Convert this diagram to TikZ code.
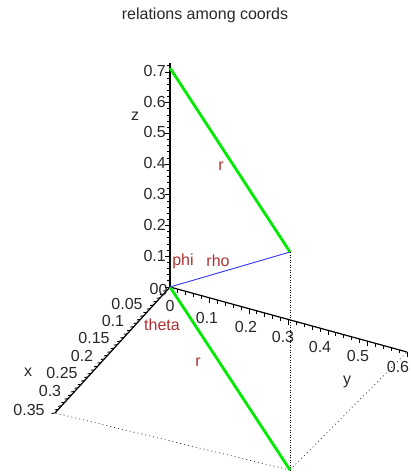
\documentclass[tikz,border=0pt]{standalone}
\usepackage{fontspec}
\setmainfont{Liberation Sans}
\usetikzlibrary{calc}
\definecolor{lblred}{RGB}{176,48,48}
\definecolor{grn}{RGB}{0,235,0}
\definecolor{blu}{RGB}{50,50,255}
\definecolor{txt}{RGB}{40,40,40}
\begin{document}
\begin{tikzpicture}[x=1pt,y=-1pt,
  ticklbl/.style={font=\fontsize{16}{16}\selectfont, text=txt, inner sep=0pt},
  redlbl/.style={font=\fontsize{16}{16}\selectfont, text=lblred, inner sep=0pt},
  axisline/.style={black, line width=1.2pt},
  tickmark/.style={black, line width=0.9pt},
  greenline/.style={grn, line width=2.8pt},
  bluline/.style={blu, line width=0.9pt},
  densedot/.style={black, line width=0.9pt, dash pattern=on 1.2pt off 1.3pt},
  sparsedot/.style={black!80, line width=0.7pt, dash pattern=on 1pt off 3pt}]
\useasboundingbox (0,0) rectangle (411,473);
% key points
\coordinate (O) at (170,287);
\coordinate (Ztop) at (170,63);
\coordinate (Xend) at (55,413);
\coordinate (Yend) at (407,352);
\coordinate (Pz) at (170,68);
\coordinate (P) at (290,252);
\coordinate (Q) at (290,470);
% title
\node[ticklbl] (title) at (205,15) {relations among coords};
% dotted construction lines
\draw[densedot] (P) -- (Q);
\draw[sparsedot] (Q) -- (Xend);
\draw[sparsedot] (Q) -- (Yend);
% axes
\draw[axisline] (O) -- (Ztop);
\draw[axisline] (O) -- (Xend);
\draw[axisline] (O) -- (Yend);
% z ticks (every 0.02)
\foreach \k in {0,...,36}{
  \pgfmathsetmacro{\yy}{287-307*0.02*\k}
  \pgfmathsetmacro{\len}{ifthenelse(mod(\k,5)==0,5,3.5)}
  \draw[tickmark] (170,\yy) -- ++(-\len,0);
}
% x ticks (every 0.01)
\foreach \k in {1,...,35}{
  \draw[tickmark] ($(O)!{\k/35}!(Xend)$) -- ++(-3.5,0.5);
}
% y ticks (every 0.02)
\foreach \k in {1,...,30}{
  \pgfmathsetmacro{\len}{ifthenelse(mod(\k,5)==0,5,3.5)}
  \draw[tickmark] ($(O)!{\k/30}!(Yend)$) -- ++(0,\len);
}
% z labels
\node[ticklbl,anchor=east] (z7) at (166,71) {0.7};
\node[ticklbl,anchor=east] (z6) at (166,102) {0.6};
\node[ticklbl,anchor=east] (z5) at (166,132) {0.5};
\node[ticklbl,anchor=east] (z4) at (166,163) {0.4};
\node[ticklbl,anchor=east] (z3) at (166,194) {0.3};
\node[ticklbl,anchor=east] (z2) at (166,225) {0.2};
\node[ticklbl,anchor=east] (z1) at (166,256) {0.1};
\node[ticklbl] (zlab) at (135,116) {z};
% x labels
\node[ticklbl] (x0) at (163,290) {0};
\node[ticklbl,fill=white,inner sep=0.3pt] (z0) at (154,289) {0};
\node[ticklbl] (x05) at (127,304) {0.05};
\node[ticklbl] (x1) at (113,321) {0.1};
\node[ticklbl] (x15) at (94,338) {0.15};
\node[ticklbl] (x2) at (82,356) {0.2};
\node[ticklbl] (x25) at (62,373) {0.25};
\node[ticklbl] (x3) at (50,391) {0.3};
\node[ticklbl] (x35) at (29,410) {0.35};
\node[ticklbl] (xlab) at (28,372) {x};
% y labels
\node[ticklbl] (y0) at (170,306) {0};
\node[ticklbl] (y1) at (207,318) {0.1};
\node[ticklbl] (y2) at (246,327) {0.2};
\node[ticklbl] (y3) at (283,337) {0.3};
\node[ticklbl] (y4) at (320,347) {0.4};
\node[ticklbl] (y5) at (358,356) {0.5};
\node[ticklbl] (y6) at (398,367) {0.6};
\node[ticklbl] (ylab) at (347,382) {y};
% plotted lines
\draw[greenline] (Pz) -- (P);
\draw[greenline] (O) -- (Q);
\draw[bluline] (O) -- (P);
% red labels
\node[redlbl] (r1) at (221,166) {r};
\node[redlbl] (phi) at (183,261) {phi};
\node[redlbl] (rho) at (218,261) {rho};
\node[redlbl] (theta) at (162,325) {theta};
\node[redlbl] (r2) at (198,362) {r};
\end{tikzpicture}
\end{document}
